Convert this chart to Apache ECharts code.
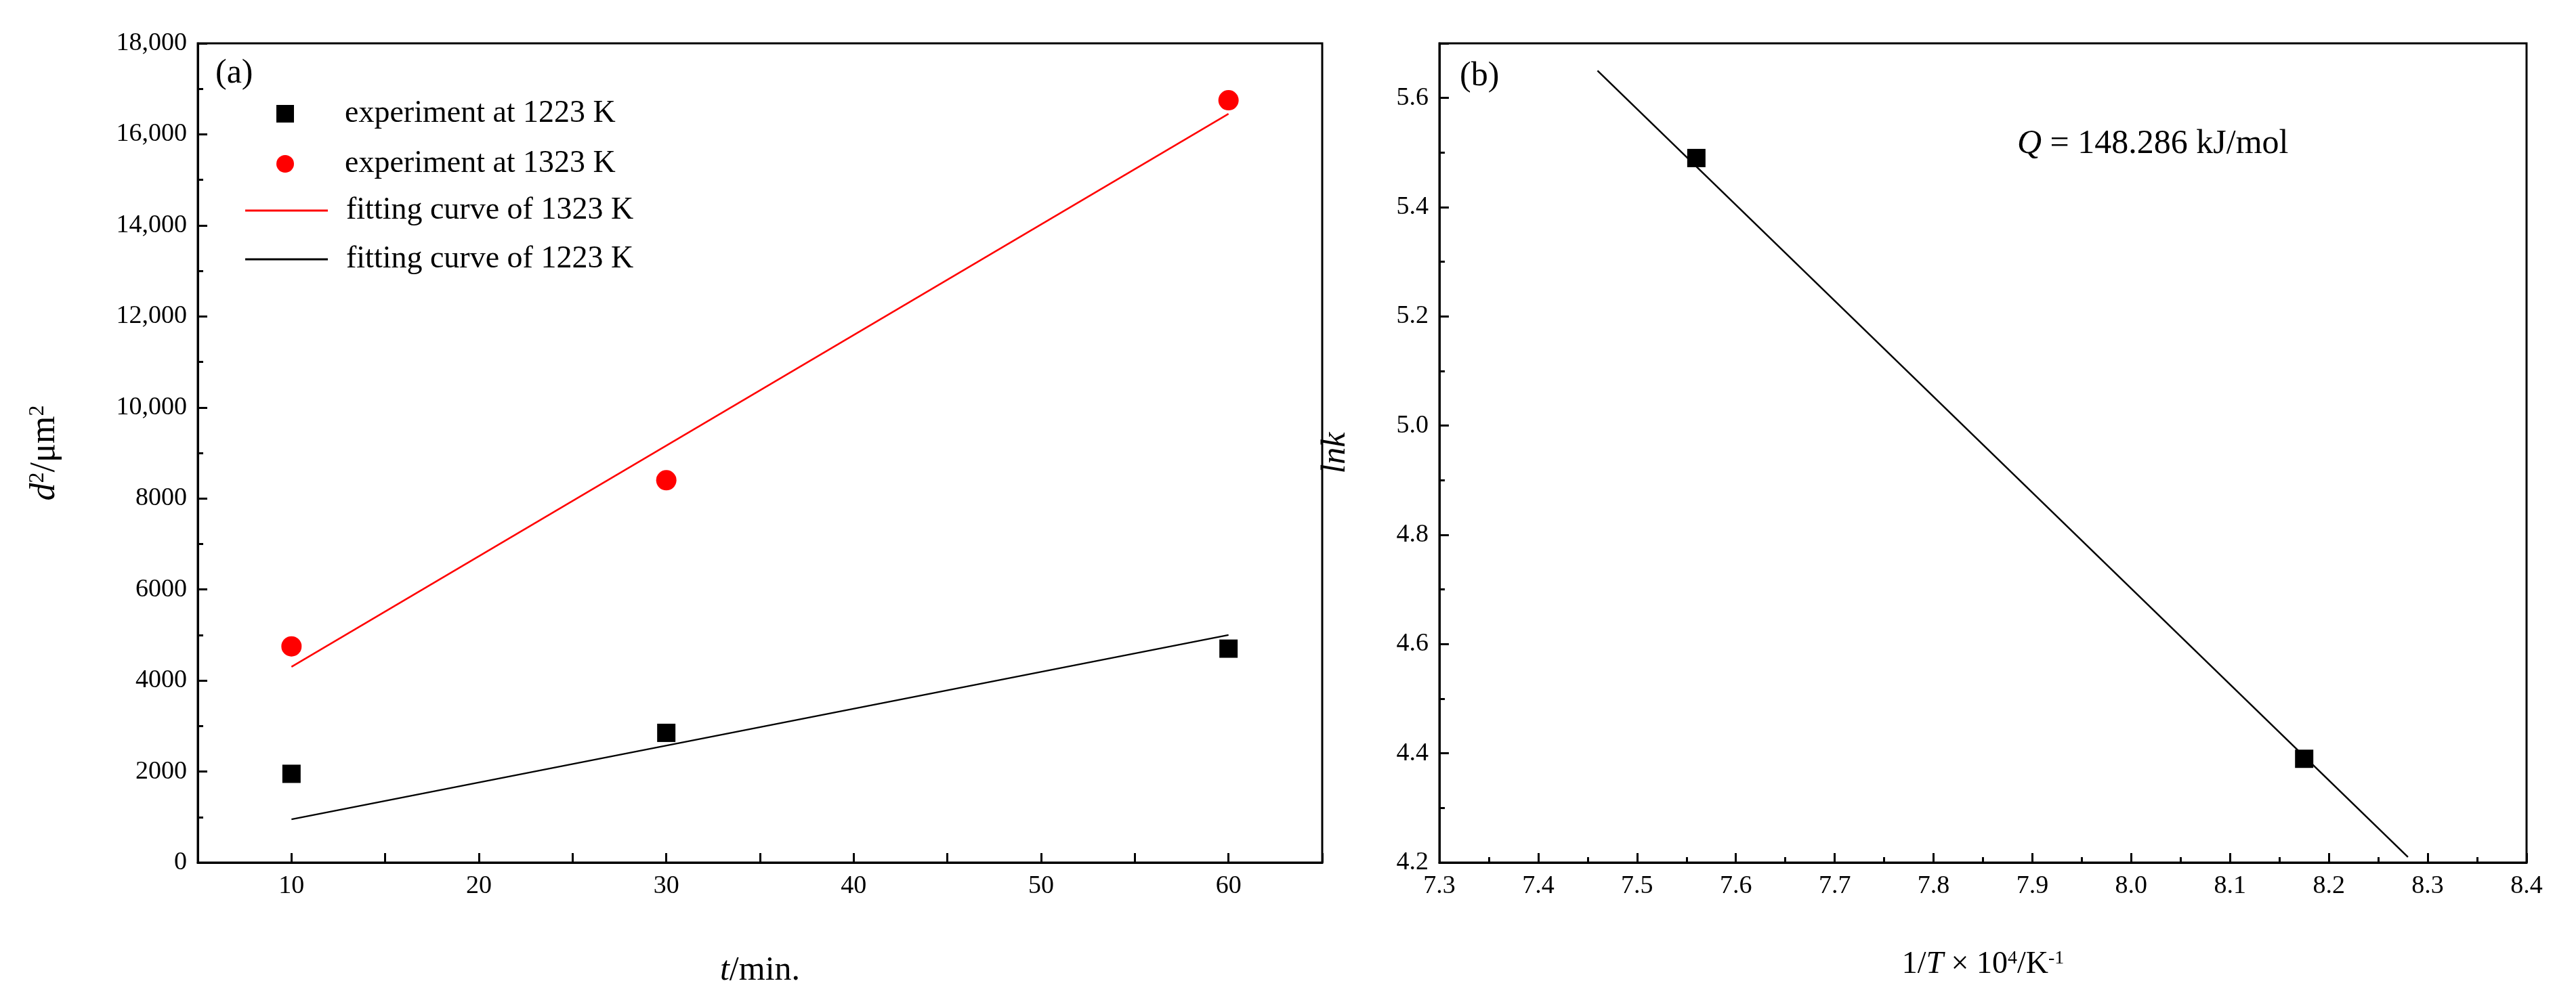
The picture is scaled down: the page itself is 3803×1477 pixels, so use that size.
<!DOCTYPE html>
<html><head><meta charset="utf-8">
<script src="https://cdn.jsdelivr.net/npm/echarts@6/dist/echarts.min.js"></script>
<style>html,body{margin:0;background:#fff}#c{width:3803px;height:1477px}</style>
</head><body><div id="c"></div>
<script>
const tA = [10, 30, 60];
const exp1223 = [1950, 2850, 4700];
const exp1323 = [4750, 8400, 16750];
const fitT = [10, 60];
const fit1323 = [4300, 16450];
const fit1223 = [950, 5000];
const invT = [7.56, 8.175];
const lnk = [5.49, 4.39];
const fitInvT = [7.46, 8.28];
const fitLnk = [5.65, 4.21];

const F = 'Liberation Serif';
const zip = (a, b) => a.map((v, i) => [v, b[i]]);
const axisCommon = {
  axisLine: {onZero: false, lineStyle: {color: '#000', width: 3}},
  axisTick: {inside: true, length: 14, lineStyle: {color: '#000', width: 3}},
  minorTick: {show: true, splitNumber: 2, length: 8, lineStyle: {color: '#000', width: 3}},
  splitLine: {show: false},
  axisLabel: {color: '#000', fontFamily: F, fontSize: 38, margin: 16},
  nameLocation: 'middle',
  nameTextStyle: {color: '#000', fontFamily: F, fontSize: 48}
};
const chart = echarts.init(document.getElementById('c'));
chart.setOption({
  animation: false,
  textStyle: {fontFamily: F},
  grid: [
    {left: 292, width: 1660, top: 64, height: 1210, show: true, borderColor: '#000', borderWidth: 3},
    {left: 2125, width: 1605, top: 64, height: 1210, show: true, borderColor: '#000', borderWidth: 3}
  ],
  xAxis: [
    Object.assign({}, axisCommon, {gridIndex: 0, type: 'value', min: 5, max: 65, interval: 5,
      minorTick: {show: false},
      axisLabel: Object.assign({}, axisCommon.axisLabel, {formatter: v => v % 10 === 0 ? String(v) : ''}),
      name: '{i|t}/min.', nameGap: 135,
      nameTextStyle: {color: '#000', fontFamily: F, fontSize: 50, rich: {i: {fontStyle: 'italic', fontSize: 50, fontFamily: F}}}}),
    Object.assign({}, axisCommon, {gridIndex: 1, type: 'value', min: 7.3, max: 8.4, interval: 0.1,
      axisLabel: Object.assign({}, axisCommon.axisLabel, {formatter: v => v.toFixed(1)}),
      name: '1/{i|T} × 10{s|4}/K{s|-1}', nameGap: 128,
      nameTextStyle: {color: '#000', fontFamily: F, fontSize: 46,
        rich: {i: {fontStyle: 'italic', fontSize: 46, fontFamily: F}, s: {fontSize: 28, verticalAlign: 'top', fontFamily: F, padding: [0,0,16,0]}}}})
  ],
  yAxis: [
    Object.assign({}, axisCommon, {gridIndex: 0, type: 'value', min: 0, max: 18000, interval: 2000,
      axisLabel: Object.assign({}, axisCommon.axisLabel, {formatter: v => v >= 10000 ? v.toLocaleString('en-US') : String(v)}),
      name: '{i|d}{s|2}/μm{s|2}', nameGap: 200,
      nameTextStyle: {color: '#000', fontFamily: F, fontSize: 52,
        rich: {i: {fontStyle: 'italic', fontSize: 52, fontFamily: F}, s: {fontSize: 32, verticalAlign: 'top', fontFamily: F, padding: [0,0,18,0]}}}}),
    Object.assign({}, axisCommon, {gridIndex: 1, type: 'value', min: 4.2, max: 5.7, interval: 0.2,
      axisLabel: Object.assign({}, axisCommon.axisLabel, {showMaxLabel: false, formatter: v => v.toFixed(1)}),
      name: 'lnk', nameGap: 128,
      nameTextStyle: {color: '#000', fontFamily: F, fontSize: 50, fontStyle: 'italic'}})
  ],
  legend: [
    {left: 403, top: 140, orient: 'vertical', itemWidth: 26, itemHeight: 26, itemGap: 28,
      textStyle: {fontFamily: F, fontSize: 46, lineHeight: 44, color: '#000', padding: [0, 0, 0, 70]},
      data: [{name: 'experiment at 1223 K', icon: 'rect'}, {name: 'experiment at 1323 K', icon: 'circle'}]},
    {left: 357, top: 283, orient: 'vertical', itemWidth: 122, itemHeight: 3, itemGap: 26,
      textStyle: {fontFamily: F, fontSize: 46, lineHeight: 44, color: '#000', padding: [0, 0, 0, 22]},
      data: [{name: 'fitting curve of 1323 K', icon: 'rect'}, {name: 'fitting curve of 1223 K', icon: 'rect'}]}
  ],
  series: [
    {name: 'experiment at 1223 K', type: 'scatter', xAxisIndex: 0, yAxisIndex: 0, symbol: 'rect', symbolSize: 27,
      itemStyle: {color: '#000', opacity: 1}, data: zip(tA, exp1223), z: 5},
    {name: 'experiment at 1323 K', type: 'scatter', xAxisIndex: 0, yAxisIndex: 0, symbol: 'circle', symbolSize: 30,
      itemStyle: {color: '#ff0000', opacity: 1}, data: zip(tA, exp1323), z: 5},
    {name: 'fitting curve of 1323 K', type: 'line', xAxisIndex: 0, yAxisIndex: 0, symbol: 'none',
      lineStyle: {color: '#ff0000', width: 2.5}, itemStyle: {color: '#ff0000'}, data: zip(fitT, fit1323)},
    {name: 'fitting curve of 1223 K', type: 'line', xAxisIndex: 0, yAxisIndex: 0, symbol: 'none',
      lineStyle: {color: '#000', width: 2.5}, itemStyle: {color: '#000'}, data: zip(fitT, fit1223)},
    {name: 'lnk fit', type: 'line', xAxisIndex: 1, yAxisIndex: 1, symbol: 'none',
      lineStyle: {color: '#000', width: 2.5}, data: zip(fitInvT, fitLnk)},
    {name: 'lnk', type: 'scatter', xAxisIndex: 1, yAxisIndex: 1, symbol: 'rect', symbolSize: 27,
      itemStyle: {color: '#000', opacity: 1}, data: zip(invT, lnk), z: 5}
  ],
  graphic: [
    {type: 'text', left: 318, top: 84, style: {text: '(a)', font: '50px "Liberation Serif"', fill: '#000'}},
    {type: 'text', left: 2155, top: 88, style: {text: '(b)', font: '50px "Liberation Serif"', fill: '#000'}},
    {type: 'text', left: 2978, top: 188, style: {text: '{i|Q} = 148.286 kJ/mol', fill: '#000',
      font: '50px "Liberation Serif"',
      rich: {i: {fontStyle: 'italic', fontSize: 50, fontFamily: F, fill: '#000'}}}}
  ]
});
</script></body></html>
